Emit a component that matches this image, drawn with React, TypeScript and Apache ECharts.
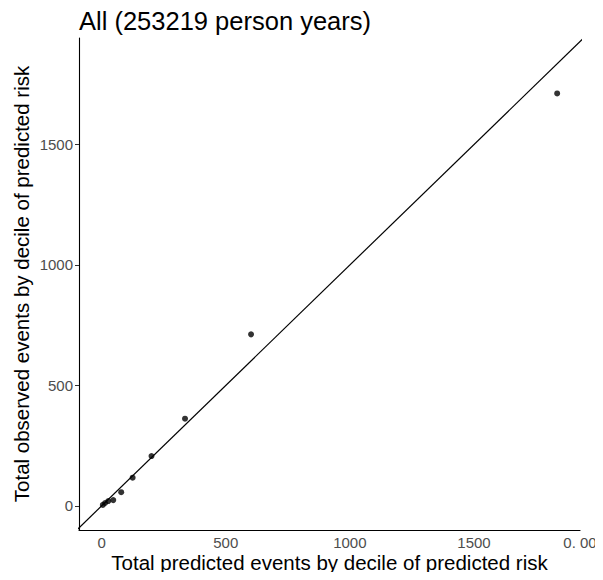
import React, { useEffect, useRef } from "react";
import * as echarts from "echarts";

const titleText = "All (253219 person years)";
const xAxisTitle = "Total predicted events by decile of predicted risk";
const yAxisTitle = "Total observed events by decile of predicted risk";

// decile points
const predicted = [5, 14, 27, 47, 79, 125, 201, 336, 602, 1835];
const observed = [4, 12, 20, 24, 57, 117, 207, 362, 712, 1712];

const xTicks = [0, 500, 1000, 1500];
const yTicks = [0, 500, 1000, 1500];
const xRange = [-91, 1927];
const yRange = [-100, 1942];
const lastXLabel = "0. 00";

export default function App() {
  const ref = useRef<HTMLDivElement>(null);
  useEffect(() => {
    if (!ref.current) return;
    const chart = echarts.init(ref.current, null, { renderer: "svg" });
    const font = "'Liberation Sans', Arial, Helvetica, sans-serif";
    const lo = Math.min(xRange[0], yRange[0]);
    const hi = Math.max(xRange[1], yRange[1]);
    chart.setOption({
      animation: false,
      backgroundColor: "#ffffff",
      textStyle: { fontFamily: font },
      title: {
        text: titleText,
        left: 74,
        top: 3,
        textStyle: { fontFamily: font, fontSize: 25.5, fontWeight: "normal", color: "#000" },
      },
      grid: { left: 79, right: 23, top: 38, bottom: 50, containLabel: false },
      xAxis: {
        type: "value",
        min: xRange[0],
        max: xRange[1],
        name: xAxisTitle,
        nameLocation: "middle",
        nameGap: 22,
        nameMoveOverlap: false,
        nameTextStyle: { fontFamily: font, fontSize: 20.5, color: "#000" },
        axisLine: { show: true, onZero: false, lineStyle: { color: "#000", width: 1.1 } },
        axisTick: { show: false },
        splitLine: { show: false },
        axisLabel: {
          customValues: [...xTicks, xRange[1]],
          formatter: (v: number) => (v === xRange[1] ? lastXLabel : String(v)),
          fontFamily: font,
          fontSize: 15,
          color: "#4D4D4D",
          margin: 5,
          showMaxLabel: true,
        },
      },
      yAxis: {
        type: "value",
        min: yRange[0],
        max: yRange[1],
        name: yAxisTitle,
        nameLocation: "middle",
        nameGap: 47,
        nameMoveOverlap: false,
        nameRotate: 90,
        nameTextStyle: { fontFamily: font, fontSize: 20.5, color: "#000" },
        axisLine: { show: true, onZero: false, lineStyle: { color: "#000", width: 1.1 } },
        axisTick: { show: true, customValues: yTicks, length: 4, lineStyle: { color: "#333" } },
        splitLine: { show: false },
        axisLabel: {
          customValues: yTicks,
          formatter: (v: number) => String(v),
          fontFamily: font,
          fontSize: 15,
          color: "#4D4D4D",
          margin: 6,
        },
      },
      series: [
        {
          type: "line",
          data: [
            [lo, lo],
            [hi, hi],
          ],
          symbol: "none",
          lineStyle: { color: "#000", width: 1.2 },
          silent: true,
          clip: true,
          z: 2,
        },
        {
          type: "scatter",
          data: predicted.map((p, i) => [p, observed[i]]),
          symbol: "circle",
          symbolSize: 6,
          itemStyle: { color: "#000" },
          z: 3,
        },
      ],
    });
    return () => chart.dispose();
  }, []);
  return <div ref={ref} style={{ width: 603, height: 580, margin: -8 }} />;
}
